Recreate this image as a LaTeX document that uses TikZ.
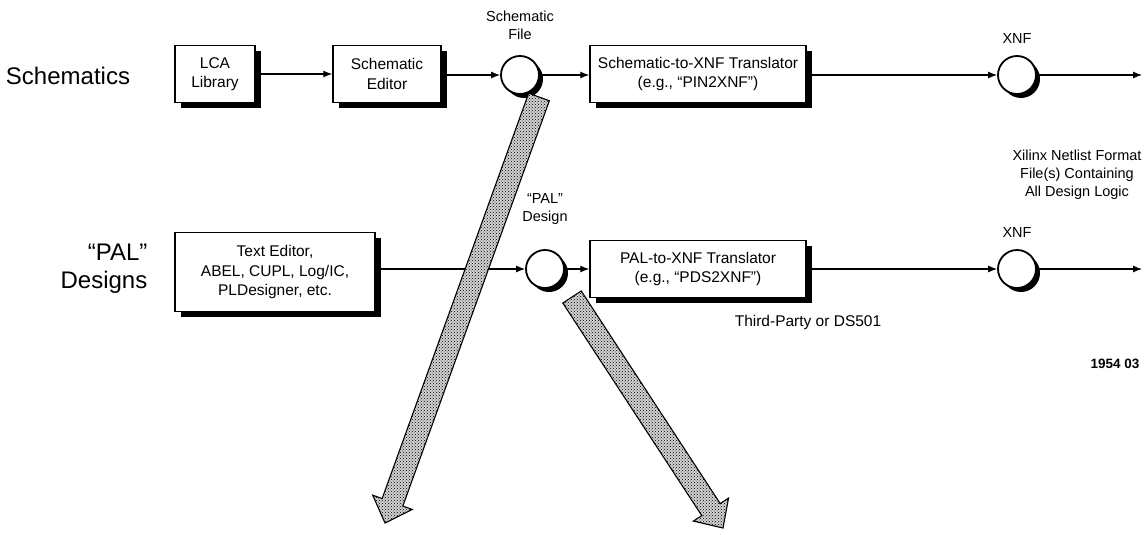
\documentclass[tikz,border=0pt]{standalone}
\usepackage{fontspec}
\setmainfont{Liberation Sans}
\usetikzlibrary{positioning,arrows.meta,shadows,patterns,calc}
\newcommand{\boxfont}{\fontsize{15.5}{19.5}\selectfont}
\newcommand{\lblfont}{\fontsize{14.5}{18}\selectfont}
\newcommand{\rowfont}{\fontsize{24}{28}\selectfont}
\tikzset{
  tool/.style   = {draw, line width=1.5pt, fill=white, align=center, font=\boxfont,
                   inner sep=2pt, minimum height=57pt,
                   drop shadow={shadow xshift=5.5pt, shadow yshift=-5.5pt, fill=black, opacity=1}},
  file/.style   = {circle, draw, line width=1.8pt, fill=white, minimum size=38pt, inner sep=0pt,
                   drop shadow={shadow xshift=4pt, shadow yshift=-4pt, fill=black, opacity=1}},
  lbl/.style    = {align=center, font=\lblfont, inner sep=0pt},
  rowlbl/.style = {align=right, font=\rowfont, inner sep=0pt},
  flow/.style   = {-{Latex[length=9pt,width=7pt]}, line width=1.1pt},
  fat/.style    = {draw, line width=1.1pt, preaction={fill=gray!35},
                   pattern=crosshatch dots, pattern color=black},
}
\newcommand{\fatarrow}[2]{% start, tip
  \coordinate (hb) at ($(#2)!22pt!(#1)$);
  \path[fat] ($(#1)!11pt!90:(#2)$) -- ($(hb)!11pt!90:(#2)$) -- ($(hb)!21pt!90:(#2)$)
    -- (#2) -- ($(hb)!21pt!-90:(#2)$) -- ($(hb)!11pt!-90:(#2)$) -- ($(#1)!11pt!-90:(#2)$) -- cycle;
}
\begin{document}
\begin{tikzpicture}[x=1pt, y=-1pt, node distance=11pt]
  \useasboundingbox (0,0) rectangle (1148,535);
  % schematics row
  \node[rowlbl] (schem) at (68,76) {Schematics};
  \node[tool, minimum width=80pt]  (lca) at (215,74) {LCA\\Library};
  \node[tool, minimum width=108pt] (sed) at (387,74) {Schematic\\Editor};
  \node[file] (sfile) at (520,75) {};
  \node[lbl, above=15pt of sfile] (sfilel) {Schematic\\File};
  \node[tool, minimum width=216pt] (sxt) at (698,74) {Schematic-to-XNF Translator\\(e.g., “PIN2XNF”)};
  \node[file] (xnfa) at (1017,75) {};
  \node[lbl, above=of xnfa] (xnfal) {XNF};
  \coordinate (enda) at (1142,75);
  \draw[flow] (lca) -- (sed);
  \draw[flow] (sed.east |- sfile) -- (sfile);
  \draw[flow] (sfile) -- (sxt.west |- sfile);
  \draw[flow] (sxt.east |- xnfa) -- (xnfa);
  \draw[flow] (xnfa) -- (enda);
  % PAL row
  \node[rowlbl] (pal) at (104,269) {“PAL”\\Designs};
  \node[tool, minimum width=200pt, minimum height=79pt] (ted) at (275,272)
    {Text Editor,\\ABEL, CUPL, Log/IC,\\PLDesigner, etc.};
  \node[file] (pfile) at (545,269) {};
  \node[lbl, above=24pt of pfile] (pfilel) {“PAL”\\Design};
  \node[tool, minimum width=216pt] (pxt) at (698,269) {PAL-to-XNF Translator\\(e.g., “PDS2XNF”)};
  \node[file] (xnfb) at (1017,269) {};
  \node[lbl, above=of xnfb] (xnfbl) {XNF};
  \coordinate (endb) at (1142,269);
  \draw[flow] (ted.east |- pfile) -- (pfile);
  \draw[flow] (pfile) -- (pxt);
  \draw[flow] (pxt) -- (xnfb);
  \draw[flow] (xnfb) -- (endb);
  \node[lbl, font=\boxfont] (vend) at (808,322) {Third-Party or DS501};
  \node[lbl] (xnfdesc) at (1077,175) {Xilinx Netlist Format\\File(s) Containing\\All Design Logic};
  \node[lbl, font=\fontsize{13.5}{16}\selectfont\bfseries] (fig) at (1115,364) {1954 03};
  % outgoing shaded arrows
  \coordinate (sout) at (539,97);
  \coordinate (stip) at (385,523);
  \coordinate (pout) at (572,297);
  \coordinate (ptip) at (723,528);
  \fatarrow{sout}{stip}
  \fatarrow{pout}{ptip}
\end{tikzpicture}
\end{document}
